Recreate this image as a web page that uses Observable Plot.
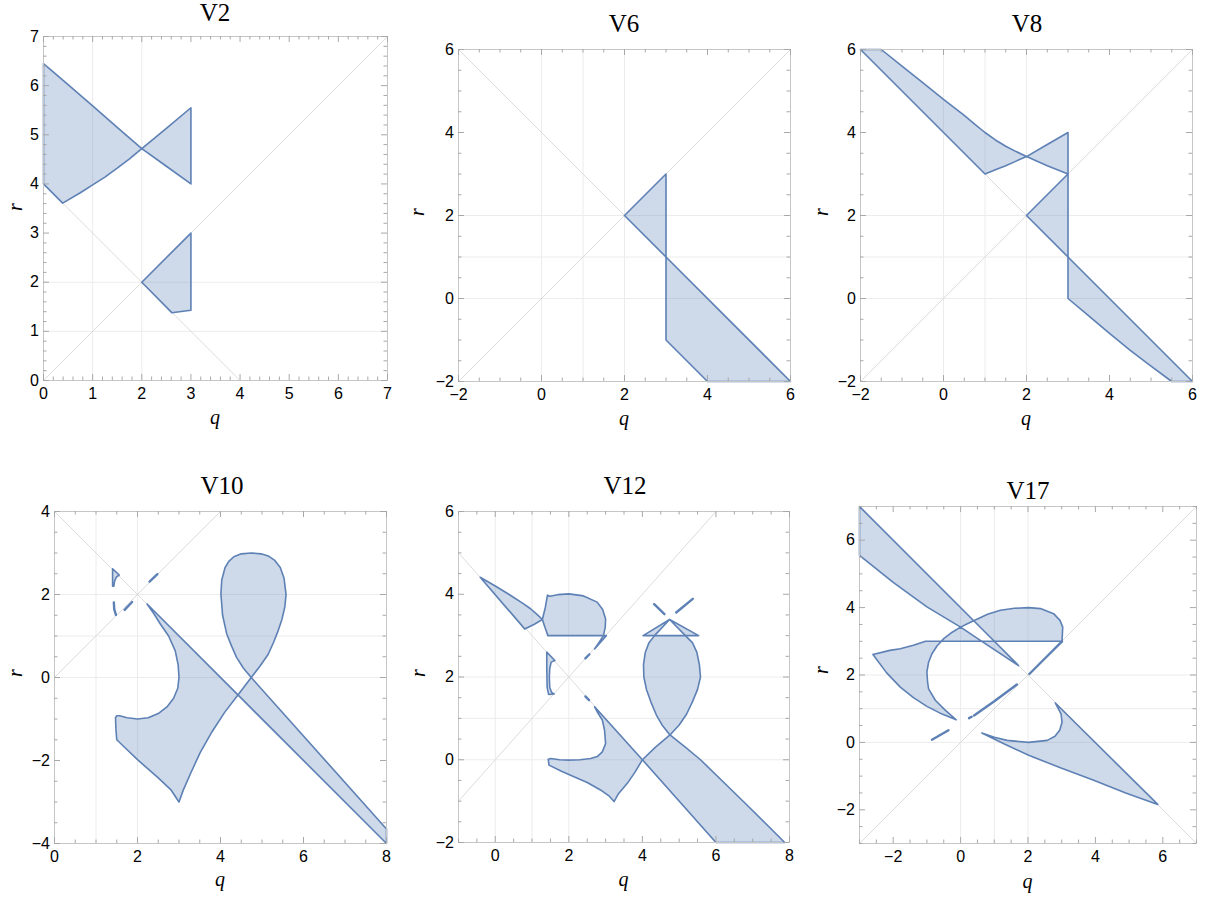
<!DOCTYPE html>
<html><head><meta charset="utf-8">
<script src="https://cdn.jsdelivr.net/npm/d3@7"></script>
<script src="https://cdn.jsdelivr.net/npm/@observablehq/plot@0.6"></script>
<style>
body{margin:0;background:#fff;}
#root{position:relative;width:1213px;height:899px;overflow:hidden;}
.pl{position:absolute;}
.lbl{position:absolute;white-space:nowrap;line-height:1;color:#000;}
</style></head><body><div id="root"></div>
<script>
// ---------- data: region boundaries in (q, r) ----------
const gridValues = [0, 1, 2];

const v2QDomain = [0, 7], v2RDomain = [0, 7];
const v2QTicks = [0, 1, 2, 3, 4, 5, 6, 7], v2RTicks = [0, 1, 2, 3, 4, 5, 6, 7];
const v2Regions = [
  [[0,6.45],[0.5,6.02],[1,5.59],[1.5,5.15],[2,4.72],[1.75,4.51],[1.5,4.32],[1.25,4.14],[1,3.98],[0.75,3.82],[0.39,3.61],[0,4.0],[0,6.45]],
  [[2,4.72],[2.5,4.36],[3,4.0],[3,5.55],[2.5,5.13],[2,4.72]],
  [[2,2],[3,3],[3,1.43],[2.61,1.38],[2,2]]
];
const v2Slivers = [];
const v2Diagonals = [[[0,0],[7,7]], [[0,4],[4,0]]];

const v6QDomain = [-2, 6], v6RDomain = [-2, 6];
const v6QTicks = [-2, 0, 2, 4, 6], v6RTicks = [-2, 0, 2, 4, 6];
const v6Regions = [
  [[2,2],[3,3],[3,1],[2,2]],
  [[3,1],[6,-2],[4,-2],[3,-1],[3,1]]
];
const v6Slivers = [];
const v6Diagonals = [[[-2,-2],[6,6]], [[-2,6],[6,-2]]];

const v8QDomain = [-2, 6], v8RDomain = [-2, 6];
const v8QTicks = [-2, 0, 2, 4, 6], v8RTicks = [-2, 0, 2, 4, 6];
const v8Regions = [
  [[-2,6],[-1.5,6],[-1,5.6],[-0.5,5.2],[0,4.8],[0.5,4.41],[0.75,4.2],[1,4.0],[1.25,3.82],[1.5,3.67],[1.75,3.54],[2,3.42],[1.75,3.31],[1.5,3.2],[1.25,3.1],[1,3],[-2,6]],
  [[2,3.42],[2.5,3.71],[3,4],[3,3],[2.5,3.2],[2,3.42]],
  [[2,2],[3,3],[3,1],[2,2]],
  [[3,1],[6,-2],[5.5,-2],[5,-1.63],[4.5,-1.25],[4,-0.84],[3.5,-0.42],[3,0],[3,1]]
];
const v8Slivers = [];
const v8Diagonals = [[[-2,-2],[6,6]], [[-2,6],[6,-2]]];

const v10QDomain = [0, 8], v10RDomain = [-4, 4];
const v10QTicks = [0, 2, 4, 6, 8], v10RTicks = [-4, -2, 0, 2, 4];
const v10Regions = [
  [[2.23,1.77],[2.4,1.53],[2.55,1.29],[2.75,1.0],[2.91,0.64],[2.98,0.3],[3.0,0.0],[2.97,-0.26],[2.87,-0.5],[2.71,-0.71],[2.5,-0.87],[2.26,-0.97],[2.0,-1.0],[1.75,-0.97],[1.57,-0.92],[1.5,-0.92],[1.47,-0.97],[1.48,-1.25],[1.5,-1.5],[1.75,-1.74],[2.0,-1.98],[2.5,-2.42],[2.8,-2.7],[3.0,-3.0],[3.1,-2.72],[3.27,-2.33],[3.51,-1.81],[3.8,-1.3],[4.1,-0.84],[4.42,-0.42],[2.23,1.77]],
  [[4.42,-0.42],[4.58,-0.21],[4.74,0],[8,-3.65],[8,-4],[4.42,-0.42]],
  [[4.74,0],[4.95,0.27],[5.15,0.56],[5.28,0.85],[5.39,1.13],[5.48,1.4],[5.55,1.7],[5.58,2.0],[5.53,2.4],[5.44,2.65],[5.3,2.83],[5.15,2.93],[4.98,2.98],[4.74,3.0],[4.5,2.98],[4.32,2.91],[4.2,2.8],[4.11,2.65],[4.03,2.35],[4.01,2.01],[4.05,1.5],[4.15,1.05],[4.27,0.75],[4.39,0.48],[4.55,0.23],[4.74,0]],
  [[1.40,2.62],[1.56,2.47],[1.49,2.42],[1.45,2.33],[1.43,2.2],[1.40,2.2],[1.40,2.62]]
];
const v10Slivers = [[[2.29,2.31],[2.48,2.49]], [[1.43,1.81],[1.44,1.64],[1.48,1.51]], [[1.69,1.63],[1.87,1.82]]];
const v10Diagonals = [[[0,0],[4,4]], [[0,4],[8,-4]]];

const v12QDomain = [-1, 8], v12RDomain = [-2, 6];
const v12QTicks = [0, 2, 4, 6, 8], v12RTicks = [-2, 0, 2, 4, 6];
const v12Regions = [
  [[-0.41,4.41],[0.0,4.2],[0.42,3.97],[0.75,3.78],[0.96,3.65],[1.15,3.5],[1.28,3.39],[1.05,3.27],[0.80,3.16],[-0.41,4.41]],
  [[1.28,3.39],[1.36,3.68],[1.42,3.98],[1.48,3.95],[1.7,3.99],[2.0,4.01],[2.4,3.96],[2.77,3.81],[2.92,3.63],[3.0,3.4],[2.99,3.2],[2.94,3.0],[1.43,3.0],[1.35,3.2],[1.28,3.39]],
  [[2.94,3.0],[3.02,3.0],[2.7,2.68],[2.83,2.85],[2.94,3.0]],
  [[1.40,2.6],[1.62,2.4],[1.52,2.36],[1.48,2.2],[1.47,2.0],[1.48,1.75],[1.53,1.63],[1.6,1.59],[1.45,1.58],[1.41,1.75],[1.40,2.2],[1.40,2.6]],
  [[2.70,1.28],[2.77,1.16],[2.91,0.96],[2.97,0.72],[3.0,0.39],[2.91,0.19],[2.78,0.08],[2.59,0.03],[2.3,0.0],[2.0,-0.01],[1.75,0.0],[1.51,0.03],[1.44,0.01],[1.46,-0.13],[1.8,-0.28],[2.14,-0.41],[2.5,-0.55],[2.86,-0.73],[3.1,-0.88],[3.23,-1.01],[3.35,-0.82],[3.59,-0.57],[3.8,-0.3],[4.0,0.0],[2.70,1.28]],
  [[4.0,0.0],[4.35,0.3],[4.75,0.6],[5.2,0.28],[5.58,0.0],[6.76,-1.02],[7.87,-2.0],[6.0,-2.0],[4.0,0.0]],
  [[4.75,0.6],[4.55,0.82],[4.38,1.08],[4.23,1.4],[4.11,1.7],[4.04,2.0],[4.03,2.3],[4.08,2.6],[4.18,2.83],[4.33,3.0],[5.17,3.0],[5.36,2.83],[5.48,2.6],[5.55,2.3],[5.58,2.0],[5.5,1.7],[5.36,1.4],[5.2,1.1],[5.0,0.84],[4.75,0.6]],
  [[4.02,3.0],[4.74,3.39],[4.33,3.0],[4.02,3.0]],
  [[5.17,3.0],[4.74,3.39],[5.53,3.0],[5.17,3.0]]
];
const v12Slivers = [[[2.45,2.45],[2.56,2.55]], [[2.45,1.53],[2.55,1.44]], [[4.32,3.76],[4.60,3.52]], [[4.92,3.56],[5.37,3.89]]];
const v12Diagonals = [[[-1,-1],[6,6]], [[-1,5],[6,-2]]];

const v17QDomain = [-3, 7], v17RDomain = [-3, 7];
const v17QTicks = [-2, 0, 2, 4, 6], v17RTicks = [-2, 0, 2, 4, 6];
const v17Regions = [
  [[-3,7],[0.39,3.61],[0.2,3.52],[0.0,3.42],[-1,4.02],[-2,4.75],[-3,5.55],[-3,7]],
  [[-0.57,3.0],[-0.5,3.08],[-0.25,3.27],[0.0,3.42],[0.63,3.0],[-0.57,3.0]],
  [[0.39,3.61],[0.8,3.8],[1.18,3.92],[1.6,3.98],[2.02,4.0],[2.37,3.97],[2.76,3.82],[2.95,3.62],[3.03,3.42],[3.01,3.0],[1.0,3.0],[0.39,3.61]],
  [[0.63,3.0],[1.0,3.0],[1.72,2.28],[0.63,3.0]],
  [[-2.60,2.61],[-2.1,2.73],[-1.79,2.78],[-1.4,2.88],[-1.04,3.0],[-0.57,3.0],[-0.7,2.86],[-0.85,2.63],[-0.95,2.38],[-1.0,2.09],[-0.98,1.8],[-0.95,1.59],[-0.75,1.25],[-0.45,0.95],[-0.13,0.67],[-0.55,0.84],[-1.0,1.07],[-1.4,1.33],[-1.79,1.64],[-2.2,2.07],[-2.60,2.61]],
  [[2.81,1.17],[5.85,-1.84],[4.9,-1.5],[3.95,-1.12],[3.0,-0.77],[2.02,-0.38],[1.3,-0.05],[0.63,0.28],[1.0,0.15],[1.38,0.06],[2.02,0.0],[2.57,0.06],[2.8,0.18],[2.94,0.36],[3.01,0.6],[2.98,0.85],[2.81,1.17]]
];
const v17Slivers = [[[-0.85,0.08],[-0.36,0.36]], [[0.25,0.72],[0.33,0.76]], [[0.40,0.80],[1.0,1.22],[1.67,1.72]], [[3.01,3.0],[2.5,2.49],[2.04,2.03]]];
const v17Diagonals = [[[-3,-3],[7,7]], [[-3,7],[7,-3]]];

// ---------- layout / style ----------
const blue = "#5e81b5";
const panels = [
  {title:"V2",  regions:v2Regions,  slivers:v2Slivers,  diagonals:v2Diagonals,  qDomain:v2QDomain,  rDomain:v2RDomain,  qTicks:v2QTicks,  rTicks:v2RTicks,  minor:0.2, left:43,  top:36,  size:344, titleX:215,  titleBase:21,  qBase:424, rX:15,  rY:207},
  {title:"V6",  regions:v6Regions,  slivers:v6Slivers,  diagonals:v6Diagonals,  qDomain:v6QDomain,  rDomain:v6RDomain,  qTicks:v6QTicks,  rTicks:v6RTicks,  minor:0.5, left:458, top:49,  size:332, titleX:624,  titleBase:32,  qBase:425, rX:417, rY:212},
  {title:"V8",  regions:v8Regions,  slivers:v8Slivers,  diagonals:v8Diagonals,  qDomain:v8QDomain,  rDomain:v8RDomain,  qTicks:v8QTicks,  rTicks:v8RTicks,  minor:0.5, left:860, top:49,  size:332, titleX:1027, titleBase:32,  qBase:425, rX:821, rY:212},
  {title:"V10", regions:v10Regions, slivers:v10Slivers, diagonals:v10Diagonals, qDomain:v10QDomain, rDomain:v10RDomain, qTicks:v10QTicks, rTicks:v10RTicks, minor:0.5, left:54,  top:511, size:332, titleX:222,  titleBase:494, qBase:886, rX:15,  rY:673},
  {title:"V12", regions:v12Regions, slivers:v12Slivers, diagonals:v12Diagonals, qDomain:v12QDomain, rDomain:v12RDomain, qTicks:v12QTicks, rTicks:v12RTicks, minor:0.5, left:458, top:511, size:331, titleX:625,  titleBase:494, qBase:886, rX:418, rY:673},
  {title:"V17", regions:v17Regions, slivers:v17Slivers, diagonals:v17Diagonals, qDomain:v17QDomain, rDomain:v17RDomain, qTicks:v17QTicks, rTicks:v17RTicks, minor:0.5, left:859, top:506, size:337, titleX:1028, titleBase:499, qBase:888, rX:821, rY:670}
];

const root = document.getElementById("root");
const mL = 50, mR = 10, mT = 10, mB = 32;
const majorLen = 6, minorLen = 3.5;
const tickColor = "#a8a8a8";
const fmt = d => d < 0 ? "\u2212" + Math.abs(d) : String(d);
const rows = polys => polys.flatMap((p, i) => p.map(([q, r]) => ({q, r, id: i})));

function addLabel(text, x, base, opts) {
  const d = document.createElement("div");
  d.className = "lbl";
  d.textContent = text;
  d.style.fontFamily = opts.family;
  d.style.fontSize = opts.size + "px";
  if (opts.italic) d.style.fontStyle = "italic";
  if (opts.rotate) {
    d.style.left = x + "px";
    d.style.top = base + "px";
    d.style.transform = "translate(-50%,-50%) rotate(-90deg)";
  } else {
    d.style.left = x + "px";
    d.style.top = (base - 0.8375 * opts.size) + "px";
    d.style.transform = "translateX(-50%)";
  }
  root.appendChild(d);
}

function ticksFor(p) {
  const [q0, q1] = p.qDomain, [r0, r1] = p.rDomain;
  const qStep = p.qTicks[1] - p.qTicks[0], rStep = p.rTicks[1] - p.rTicks[0];
  const isMajor = (v, step) => Math.abs(v / step - Math.round(v / step)) < 1e-6;
  const qMaj = d3.range(Math.ceil(q0 / qStep) * qStep, q1 + 1e-9, qStep);
  const rMaj = d3.range(Math.ceil(r0 / rStep) * rStep, r1 + 1e-9, rStep);
  const qMin = d3.range(Math.ceil(q0 / p.minor) * p.minor, q1 + 1e-9, p.minor).filter(v => !isMajor(v, qStep));
  const rMin = d3.range(Math.ceil(r0 / p.minor) * p.minor, r1 + 1e-9, p.minor).filter(v => !isMajor(v, rStep));
  const marks = [];
  for (const [vals, len] of [[qMaj, majorLen], [qMin, minorLen]]) {
    marks.push(Plot.ruleX(vals, {x: d => d, y1: () => r0, y2: () => r0, insetTop: -len, stroke: tickColor}));
    marks.push(Plot.ruleX(vals, {x: d => d, y1: () => r1, y2: () => r1, insetBottom: -len, stroke: tickColor}));
  }
  for (const [vals, len] of [[rMaj, majorLen], [rMin, minorLen]]) {
    marks.push(Plot.ruleY(vals, {y: d => d, x1: () => q0, x2: () => q0, insetRight: -len, stroke: tickColor}));
    marks.push(Plot.ruleY(vals, {y: d => d, x1: () => q1, x2: () => q1, insetLeft: -len, stroke: tickColor}));
  }
  return marks;
}

for (const p of panels) {
  const chart = Plot.plot({
    width: p.size + mL + mR,
    height: p.size + mT + mB,
    marginLeft: mL, marginRight: mR, marginTop: mT, marginBottom: mB,
    x: {domain: p.qDomain},
    y: {domain: p.rDomain},
    style: {fontFamily: "'Liberation Sans', Arial, sans-serif", fontSize: "16px", background: "transparent", overflow: "visible", color: "#000"},
    marks: [
      Plot.ruleX(gridValues, {stroke: "#ececec"}),
      Plot.ruleY(gridValues, {stroke: "#ececec"}),
      Plot.line(rows(p.diagonals), {x: "q", y: "r", z: "id", stroke: "#dcdcdc", strokeWidth: 1}),
      Plot.line(rows(p.regions), {x: "q", y: "r", z: "id", fill: blue, fillOpacity: 0.3, stroke: blue, strokeWidth: 1.6, strokeLinejoin: "round"}),
      Plot.line(rows(p.slivers), {x: "q", y: "r", z: "id", stroke: blue, strokeWidth: 2.4, strokeLinecap: "round"}),
      Plot.frame({stroke: "#c6c6c6"}),
      ...ticksFor(p),
      Plot.axisX({ticks: p.qTicks, tickSize: 0, tickPadding: 7, tickFormat: fmt, fontSize: 16, label: null}),
      Plot.axisY({ticks: p.rTicks, tickSize: 0, tickPadding: 4.5, tickFormat: fmt, fontSize: 16, label: null})
    ]
  });
  const holder = document.createElement("div");
  holder.className = "pl";
  holder.style.left = (p.left - mL) + "px";
  holder.style.top = (p.top - mT) + "px";
  holder.appendChild(chart);
  root.appendChild(holder);
  addLabel(p.title, p.titleX, p.titleBase, {family: "'Liberation Serif', 'Times New Roman', serif", size: 25});
  addLabel("q", p.left + p.size / 2, p.qBase, {family: "'Liberation Serif', 'Times New Roman', serif", size: 20, italic: true});
  addLabel("r", p.rX, p.rY, {family: "'Liberation Serif', 'Times New Roman', serif", size: 20, italic: true, rotate: true});
}
</script></body></html>
